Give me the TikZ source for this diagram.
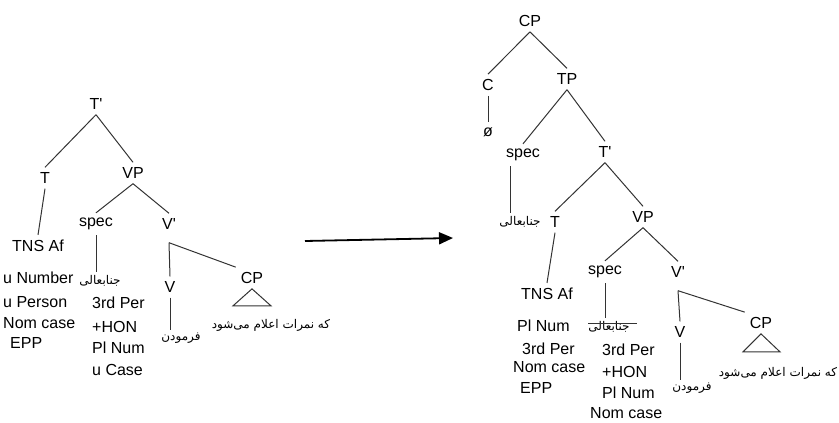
\documentclass[tikz,border=0pt]{standalone}
\usepackage{fontspec}
\setmainfont{Liberation Sans}
\newfontfamily\arabicfont[Script=Arabic]{DejaVu Sans}
\TeXXeTstate=1
\usetikzlibrary{arrows.meta}
\newcommand{\pr}{\textquotesingle}
\tikzstyle{treelabel}=[inner sep=5pt, font=\fontsize{16}{19}\selectfont]
\tikzstyle{feature}=[anchor=west, inner sep=0pt, font=\fontsize{16}{19}\selectfont]
\tikzstyle{farsi}=[inner sep=3pt, font=\arabicfont\fontsize{12}{14}\selectfont]
\tikzstyle{branch}=[line width=1pt, black!80]

\begin{document}
\begin{tikzpicture}[x=1pt, y=-1pt]
    \useasboundingbox (0,0) rectangle (839,423);
    % left tree
    \node (tbarL) at (96,104) [treelabel] {T\pr};
    \node (tL) at (45,178) [treelabel] {T};
    \node (vpL) at (133,173) [treelabel] {VP};
    \node (tnsL) at (38,246) [treelabel] {TNS Af};
    \node (specL) at (96,224) [treelabel] {spec};
    \node (vbarL) at (169,224) [treelabel] {V\pr};
    \node (janL) at (100,281) [farsi] {\beginR جنابعالی\endR};
    \node (vL) at (170,287) [treelabel] {V};
    \node (farL) at (181,338) [farsi] {\beginR فرمودن\endR};
    \node (cpL) at (252,278) [treelabel] {CP};
    \node (cpTxtL) at (271,325) [farsi] {\beginR که نمرات اعلام می‌شود\endR};
    \node (numL) at (3,278) [feature] {u Number};
    \node (perL) at (3,302) [feature] {u Person};
    \node (nomL) at (3,323) [feature] {Nom case};
    \node (eppL) at (10,343) [feature] {EPP};
    \node (thirdL) at (92,303) [feature] {3rd Per};
    \node (honL) at (92,327) [feature] {+HON};
    \node (plL) at (92,348) [feature] {Pl Num};
    \node (caseL) at (92,370) [feature] {u Case};
    \draw[branch] (tbarL.south) -- (tL.north);
    \draw[branch] (tbarL.south) -- (vpL.north);
    \draw[branch] (tL.south) -- (tnsL.north);
    \draw[branch] (vpL.south) -- (specL.north);
    \draw[branch] (vpL.south) -- (vbarL.north);
    \draw[branch] (specL.south) -- (specL.south |- janL.north);
    \draw[branch] ([yshift=-8pt]vbarL.south) -- (vL.north);
    \draw[branch] ([yshift=-8pt]vbarL.south) -- (cpL.north west);
    \draw[branch] (vL.south) -- (vL.south |- farL.north);
    \draw[branch] (cpL.south) -- ++(-19,17) -- ++(38,0) -- cycle;
    % arrow
    \coordinate (arrowFrom) at (305,241);
    \coordinate (arrowTo) at (453,238);
    \draw[-{Triangle[length=14pt,width=12pt]}, line width=1.8pt] (arrowFrom) -- (arrowTo);
    % right tree
    \node (cpR) at (530,21) [treelabel] {CP};
    \node (cR) at (488,85) [treelabel] {C};
    \node (tpR) at (567,79) [treelabel] {TP};
    \node (nullR) at (488,132) [treelabel] {ø};
    \node (specR) at (523,155) [treelabel] {spec};
    \node (tbarR) at (605,152) [treelabel] {T\pr};
    \node (janR) at (520,222) [farsi] {\beginR جنابعالی\endR};
    \node (tR) at (555,222) [treelabel] {T};
    \node (vpR) at (643,217) [treelabel] {VP};
    \node (tnsR) at (547,294) [treelabel] {TNS Af};
    \node (specRR) at (605,272) [treelabel] {spec};
    \node (vbarR) at (678,272) [treelabel] {V\pr};
    \node (janRR) at (609,327) [farsi] {\beginR جنابعالی\endR};
    \node (vR) at (680,332) [treelabel] {V};
    \node (farR) at (692,388) [farsi] {\beginR فرمودن\endR};
    \node (cpRR) at (761,323) [treelabel] {CP};
    \node (cpTxtR) at (778,373) [farsi] {\beginR که نمرات اعلام می‌شود\endR};
    \node (plR) at (517,326) [feature] {Pl Num};
    \node (thirdR) at (522,349) [feature] {3rd Per};
    \node (nomR) at (513,367) [feature] {Nom case};
    \node (eppR) at (520,388) [feature] {EPP};
    \node (thirdRR) at (602,350) [feature] {3rd Per};
    \node (honR) at (602,372) [feature] {+HON};
    \node (plRR) at (602,393) [feature] {Pl Num};
    \node (nomRR) at (590,413) [feature] {Nom case};
    \draw[branch] (cpR.south) -- (cR.north);
    \draw[branch] (cpR.south) -- (tpR.north);
    \draw[branch] (cR.south) -- (nullR.north);
    \draw[branch] (tpR.south) -- (specR.north);
    \draw[branch] (tpR.south) -- (tbarR.north);
    \draw[branch] ([xshift=-13pt]specR.south) -- ([xshift=-13pt]specR.south |- janR.north);
    \draw[branch] (tbarR.south) -- (tR.north);
    \draw[branch] (tbarR.south) -- (vpR.north);
    \draw[branch] (tR.south) -- (tnsR.north);
    \draw[branch] (vpR.south) -- (specRR.north);
    \draw[branch] (vpR.south) -- (vbarR.north);
    \draw[branch] (specRR.south) -- (specRR.south |- janRR.north);
    \draw[branch] ([shift={(-21,-4)}]janRR.center) -- ([shift={(28,-4)}]janRR.center);
    \draw[branch] ([yshift=-8pt]vbarR.south) -- (vR.north);
    \draw[branch] ([yshift=-8pt]vbarR.south) -- (cpRR.north west);
    \draw[branch] (vR.south) -- (vR.south |- farR.north);
    \draw[branch] (cpRR.south) -- ++(-18,18) -- ++(37,0) -- cycle;
\end{tikzpicture}
\end{document}
